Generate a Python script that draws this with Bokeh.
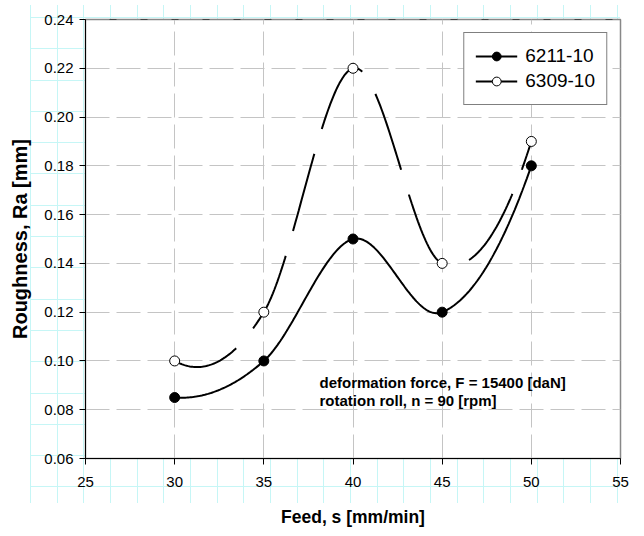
import numpy as np
from bokeh.plotting import figure
from bokeh.models import (FixedTicker, NumeralTickFormatter, Legend, LegendItem,
                          Span, Label, Range1d)
from bokeh.embed import file_html
from bokeh.resources import INLINE

# ---------------- data ----------------
feed = [30, 35, 40, 45, 50]
ra_6211 = [0.085, 0.10, 0.15, 0.12, 0.18]
ra_6309 = [0.10, 0.12, 0.22, 0.14, 0.19]
series_names = ["6211-10", "6309-10"]
x_ticks = [25, 30, 35, 40, 45, 50, 55]
y_ticks = [0.06, 0.08, 0.10, 0.12, 0.14, 0.16, 0.18, 0.20, 0.22, 0.24]
note_lines = ["deformation force, F = 15400 [daN]", "rotation roll, n = 90 [rpm]"]

FONT = "Liberation Sans"


def smooth(xs, ys, n=60):
    """Bezier smoothing through the points (spreadsheet-style smoothed line)."""
    P = np.column_stack([xs, ys]).astype(float)
    k = len(P)
    m = np.zeros_like(P)
    for i in range(1, k - 1):
        m[i] = (P[i + 1] - P[i - 1]) / 2
    m[0] = (-3 * P[0] + 4 * P[1] - P[2]) / 2
    m[-1] = (3 * P[-1] - 4 * P[-2] + P[-3]) / 2
    t = np.linspace(0, 1, n)[:, None]
    out = []
    for i in range(k - 1):
        p0, p3 = P[i], P[i + 1]
        p1, p2 = p0 + m[i] / 3, p3 - m[i + 1] / 3
        seg = (1 - t) ** 3 * p0 + 3 * (1 - t) ** 2 * t * p1 + 3 * (1 - t) * t ** 2 * p2 + t ** 3 * p3
        out.append(seg if i == 0 else seg[1:])
    c = np.vstack(out)
    return c[:, 0], c[:, 1]


cyan = "#c6f6f6"
bg_styles = {
    "background-image": (
        f"repeating-linear-gradient(to right, {cyan} 0px, {cyan} 1px, transparent 1px, transparent 26.67px), "
        f"repeating-linear-gradient(to bottom, {cyan} 0px, {cyan} 1px, transparent 1px, transparent 31.3px)"
    ),
    "background-size": "590px 498px, 590px 480px",
    "background-position": "30px 5px, 30px 17px",
    "background-repeat": "no-repeat",
}

p = figure(width=636, height=531,
           x_range=Range1d(25, 55), y_range=Range1d(0.06, 0.24),
           output_backend="svg", toolbar_location=None,
           min_border_left=85, min_border_right=16,
           min_border_top=19, min_border_bottom=73,
           border_fill_color=None, background_fill_color="white",
           styles=bg_styles)

p.outline_line_color = "#888888"
p.outline_line_width = 1.5

# grid
for g in (p.xgrid, p.ygrid):
    g.grid_line_color = "#c4c4c4"
    g.grid_line_width = 1
    g.grid_line_dash = "24 7"
p.xgrid.ticker = FixedTicker(ticks=x_ticks)
p.ygrid.ticker = FixedTicker(ticks=y_ticks)

# axes
xa, ya = p.xaxis[0], p.yaxis[0]
xa.ticker = FixedTicker(ticks=x_ticks)
ya.ticker = FixedTicker(ticks=y_ticks)
ya.formatter = NumeralTickFormatter(format="0.00")
for ax in (xa, ya):
    ax.minor_tick_line_color = None
    ax.major_tick_in = 0
    ax.major_tick_out = 6
    ax.major_tick_line_color = "black"
    ax.axis_line_color = "black"
    ax.major_label_text_font = FONT
    ax.major_label_text_font_size = "15px"
    ax.major_label_text_color = "black"
    ax.axis_label_text_font = FONT
    ax.axis_label_text_font_style = "bold"
    ax.axis_label_text_color = "black"
xa.axis_label = "Feed, s [mm/min]"
ya.axis_label = "Roughness, Ra [mm]"
xa.axis_label_text_font_size = "17.5px"
ya.axis_label_text_font_size = "20px"
xa.major_label_standoff = 12
ya.major_label_standoff = 6
xa.axis_label_standoff = 17
ya.axis_label_standoff = 10

# top border black dashes (between grey grid dashes)
p.add_layout(Span(location=0.24, dimension="width", line_color="black",
                  line_width=1, line_dash="7 24", line_dash_offset=7))

# series
sx1, sy1 = smooth(feed, ra_6211)
sx2, sy2 = smooth(feed, ra_6309)
l1 = p.line(sx1, sy1, line_color="black", line_width=2)
l2 = p.line(sx2, sy2, line_color="black", line_width=2, line_dash="80 26", line_dash_offset=12)
m1 = p.scatter(feed, ra_6211, marker="circle", size=10, fill_color="black", line_color="black")
m2 = p.scatter(feed, ra_6309, marker="circle", size=10, fill_color="white", line_color="black", line_width=1)

legend = Legend(items=[LegendItem(label=series_names[0], renderers=[l1, m1]),
                       LegendItem(label=series_names[1], renderers=[l2, m2])],
                location="top_right")
legend.margin = 13
legend.padding = 11
legend.spacing = 1
legend.glyph_width = 42
legend.glyph_height = 22
legend.label_height = 24
legend.label_standoff = 8
legend.label_text_font = FONT
legend.label_text_font_size = "19px"
legend.label_text_color = "black"
legend.border_line_color = "black"
legend.border_line_width = 1
legend.background_fill_color = "white"
legend.background_fill_alpha = 1
p.add_layout(legend, "center")

# annotation
for i, txt in enumerate(note_lines):
    p.add_layout(Label(x=38.12, y=0.0912 - i * 0.0074, text=txt,
                       text_font=FONT, text_font_size="15px",
                       text_font_style="bold", text_baseline="middle",
                       text_color="black"))

open("out.html", "w").write(file_html(p, INLINE))
